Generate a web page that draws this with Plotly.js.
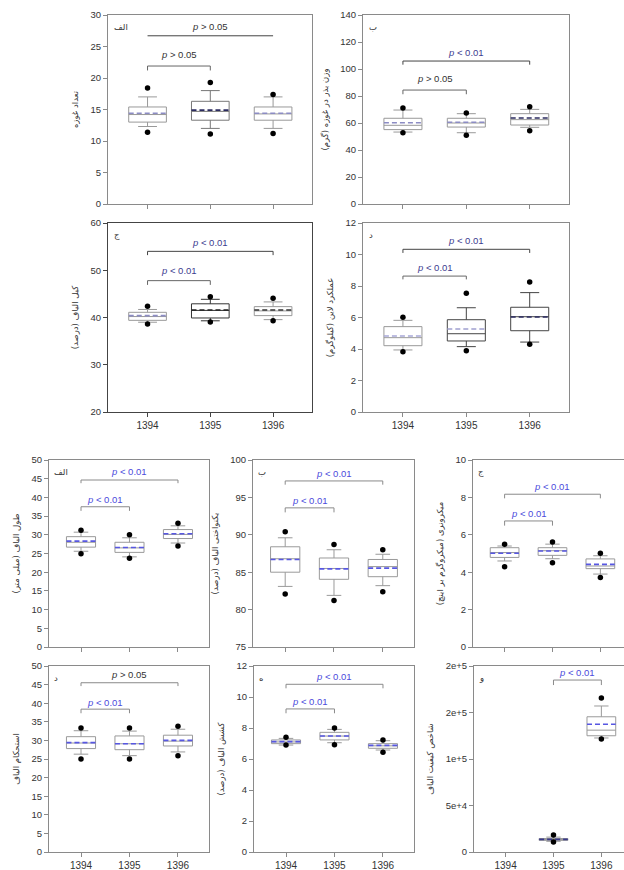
<!DOCTYPE html>
<html><head><meta charset="utf-8">
<script src="https://cdn.plot.ly/plotly-3.0.1.min.js"></script>
<style>html,body{margin:0;padding:0;overflow:hidden;background:#fff}</style>
</head><body><div id="chart" style="width:640px;height:870px"></div>
<script>
// ---------------- DATA ----------------
const years = ['1394', '1395', '1396'];
const fqiTickVals = [0, 50000, 100000, 150000, 200000];
const fqiTickText = ['0', '5e+4', '1e+5', '2e+5', '2e+5'];

// 1 – number of bolls
const bollLo = [12.3, 12.0, 12.0], bollQ1 = [13.0, 13.3, 13.3], bollMed = [14.2, 14.7, 14.3];
const bollQ3 = [15.4, 16.3, 15.4], bollHi = [17.0, 18.0, 17.0], bollMean = [14.4, 14.9, 14.4];
const bollOutLo = [11.4, 11.1, 11.2], bollOutHi = [18.4, 19.3, 17.4];
const bollP = ['p > 0.05', 'p > 0.05'];

// 2 – seed weight per boll
const seedLo = [53.3, 52.8, 56.8], seedQ1 = [55.1, 57.0, 58.5], seedMed = [58.3, 60.0, 62.5];
const seedQ3 = [63.5, 63.5, 66.9], seedHi = [69.6, 66.9, 70.1], seedMean = [60.2, 60.5, 63.7];
const seedOutLo = [52.8, 50.9, 54.3], seedOutHi = [71.1, 67.4, 72.1];
const seedP = ['p > 0.05', 'p < 0.01'];

// 3 – lint percentage
const lintLo = [39.0, 39.3, 39.55], lintQ1 = [39.4, 39.9, 40.4], lintMed = [40.2, 41.5, 41.4];
const lintQ3 = [41.1, 42.9, 42.3], lintHi = [41.7, 43.85, 43.3], lintMean = [40.4, 41.6, 41.6];
const lintOutLo = [38.6, 39.05, 39.3], lintOutHi = [42.4, 44.4, 44.1];
const lintP = ['p < 0.01', 'p < 0.01'];

// 4 – line yield
const yldLo = [3.94, 4.15, 4.44], yldQ1 = [4.21, 4.51, 5.16], yldMed = [4.72, 4.97, 6.05];
const yldQ3 = [5.42, 5.86, 6.65], yldHi = [5.82, 6.62, 7.58], yldMean = [4.83, 5.27, 6.03];
const yldOutLo = [3.83, 3.89, 4.30], yldOutHi = [6.01, 7.54, 8.25];
const yldP = ['p < 0.01', 'p < 0.01'];

// 5 – fibre length
const lenLo = [25.6, 24.1, 27.8], lenQ1 = [26.7, 25.3, 29.0], lenMed = [28.0, 26.5, 30.1];
const lenQ3 = [29.5, 28.0, 31.4], lenHi = [30.7, 29.2, 32.4], lenMean = [28.3, 26.6, 30.3];
const lenOutLo = [24.9, 23.7, 27.0], lenOutHi = [31.2, 30.0, 33.1];
const lenP = ['p < 0.01', 'p < 0.01'];

// 6 – fibre uniformity
const uniLo = [83.1, 81.9, 83.2], uniQ1 = [85.0, 84.05, 84.4], uniMed = [86.8, 85.5, 85.75];
const uniQ3 = [88.4, 86.9, 86.7], uniHi = [89.6, 88.0, 87.4], uniMean = [86.7, 85.45, 85.55];
const uniOutLo = [82.1, 81.2, 82.4], uniOutHi = [90.4, 88.7, 88.0];
const uniP = ['p < 0.01', 'p < 0.01'];

// 7 – micronaire
const micLo = [4.6, 4.72, 3.9], micQ1 = [4.79, 4.9, 4.19], micMed = [5.05, 5.15, 4.33];
const micQ3 = [5.31, 5.31, 4.71], micHi = [5.4, 5.5, 4.88], micMean = [5.01, 5.13, 4.42];
const micOutLo = [4.29, 4.51, 3.71], micOutHi = [5.49, 5.61, 5.01];
const micP = ['p < 0.01', 'p < 0.01'];

// 8 – fibre strength
const strLo = [26.3, 25.9, 26.9], strQ1 = [27.8, 27.5, 28.5], strMed = [29.3, 29.1, 29.8];
const strQ3 = [31.0, 31.2, 31.4], strHi = [32.6, 32.5, 33.0], strMean = [29.4, 29.1, 30.0];
const strOutLo = [25.0, 25.0, 25.9], strOutHi = [33.3, 33.3, 33.8];
const strP = ['p < 0.01', 'p > 0.05'];

// 9 – fibre elongation
const eloLo = [6.9, 7.05, 6.58], eloQ1 = [6.99, 7.23, 6.69], eloMed = [7.1, 7.48, 6.85];
const eloQ3 = [7.23, 7.72, 6.99], eloHi = [7.33, 7.91, 7.18], eloMean = [7.12, 7.48, 6.88];
const eloOutLo = [6.9, 6.92, 6.43], eloOutHi = [7.4, 8.0, 7.23];
const eloP = ['p < 0.01', 'p < 0.01'];

// 10 – fibre quality index
const fqiLo = [null, 11500, 122600], fqiQ1 = [null, 12500, 125000], fqiMed = [null, 13400, 131000];
const fqiQ3 = [null, 14500, 145400], fqiHi = [null, 16000, 157000], fqiMean = [null, 13600, 137300];
const fqiOutLo = [null, 10750, 121500], fqiOutHi = [null, 18300, 165600];
const fqiP = ['p < 0.01'];

// ---------------- LAYOUT CONFIG ----------------
const W = 640, H = 870;
const topMeanLight = '#8c8cc4', topMeanDark = '#2b2b60', botMean = '#5757e2';
const panels = [
  {px:[108,312], py:[15,204], yr:[0,30], dt:5, letter:'الف', title:'تعداد غوزه', top:true, xlab:false, frame:'#8a8a8a',
   d:[bollLo,bollQ1,bollMed,bollQ3,bollHi,bollMean,bollOutLo,bollOutHi], p:bollP,
   br:[[0,1,21.9,21.2,23.8],[0,2,26.7,26.7,28.1]], boxC:['#999','#777','#999'], meanC:[topMeanLight,topMeanDark,topMeanLight]},
  {px:[363,569], py:[15,204], yr:[0,140], dt:20, letter:'ب', title:'وزن بذر در غوزه (گرم)', top:true, xlab:false, frame:'#8a8a8a',
   d:[seedLo,seedQ1,seedMed,seedQ3,seedHi,seedMean,seedOutLo,seedOutHi], p:seedP,
   br:[[0,1,84.4,81.3,92.6],[0,2,105.9,103.2,112.3]], boxC:['#999','#999','#999'], meanC:[topMeanLight,topMeanLight,topMeanDark]},
  {px:[108,312], py:[223,412], yr:[20,60], dt:10, letter:'ج', title:'کیل الیاف (درصد)', top:true, xlab:true, frame:'#444',
   d:[lintLo,lintQ1,lintMed,lintQ3,lintHi,lintMean,lintOutLo,lintOutHi], p:lintP,
   br:[[0,1,47.8,46.9,50.0],[0,2,54.0,53.2,55.8]], boxC:['#999','#333','#999'], meanC:[topMeanLight,'#222','#333']},
  {px:[363,569], py:[223,412], yr:[0,12], dt:2, letter:'د', title:'عملکرد لاین (کیلوگرم)', top:true, xlab:true, frame:'#8a8a8a',
   d:[yldLo,yldQ1,yldMed,yldQ3,yldHi,yldMean,yldOutLo,yldOutHi], p:yldP,
   br:[[0,1,8.63,8.42,9.2],[0,2,10.33,10.1,10.9]], boxC:['#999','#444','#444'], meanC:['#a8a8d8','#a0a0d0',topMeanDark]},
  {px:[49,209], py:[460,647], yr:[0,50], dt:5, letter:'الف', title:'طول الیاف (میلی متر)', top:false, xlab:false, frame:'#8a8a8a',
   d:[lenLo,lenQ1,lenMed,lenQ3,lenHi,lenMean,lenOutLo,lenOutHi], p:lenP,
   br:[[0,1,37.5,36.4,39.5],[0,2,44.65,43.8,46.8]]},
  {px:[253,414], py:[460,647], yr:[75,100], dt:5, letter:'ب', title:'یکنواختی الیاف (درصد)', top:false, xlab:false, frame:'#8a8a8a',
   d:[uniLo,uniQ1,uniMed,uniQ3,uniHi,uniMean,uniOutLo,uniOutHi], p:uniP,
   br:[[0,1,93.6,93.0,94.6],[0,2,97.2,96.7,98.2]]},
  {px:[473,631], py:[460,647], yr:[0,10], dt:2, letter:'ج', title:'میکرونری (میکروگرم بر اینچ)', top:false, xlab:false, frame:'#8a8a8a',
   d:[micLo,micQ1,micMed,micQ3,micHi,micMean,micOutLo,micOutHi], p:micP,
   br:[[0,1,6.74,6.49,7.15],[0,2,8.17,7.95,8.57]]},
  {px:[49,209], py:[666,852], yr:[0,50], dt:5, letter:'د', title:'استحکام الیاف', top:false, xlab:true, frame:'#8a8a8a',
   d:[strLo,strQ1,strMed,strQ3,strHi,strMean,strOutLo,strOutHi], p:strP,
   br:[[0,1,38.4,37.3,40.3],[0,2,45.5,44.6,47.8]]},
  {px:[254,414], py:[666,852], yr:[0,12], dt:2, letter:'ه', title:'کشش الیاف (درصد)', top:false, xlab:true, frame:'#8a8a8a',
   d:[eloLo,eloQ1,eloMed,eloQ3,eloHi,eloMean,eloOutLo,eloOutHi], p:eloP,
   br:[[0,1,9.23,8.95,9.74],[0,2,10.82,10.56,11.3]]},
  {px:[474,632], py:[666,852], yr:[0,200000], letter:'و', title:'شاخص کیفیت الیاف', top:false, xlab:true, frame:'#8a8a8a',
   d:[fqiLo,fqiQ1,fqiMed,fqiQ3,fqiHi,fqiMean,fqiOutLo,fqiOutHi], p:fqiP,
   br:[[1,2,184900,179500,193500]], meanC:['#5757e2','#3a3a8a','#5757e2'], tv:fqiTickVals, tt:fqiTickText}
];

const traces = [], annotations = [];
const layout = {width:W, height:H, margin:{l:0,r:0,t:0,b:0}, showlegend:false,
  paper_bgcolor:'#fff', plot_bgcolor:'#fff', font:{family:'Liberation Sans, Arial, sans-serif', size:9, color:'#333'}};

panels.forEach((P, k) => {
  const s = k === 0 ? '' : String(k + 1);
  const xa = 'x' + s, ya = 'y' + s;
  const lineC = P.frame;
  layout['xaxis' + s] = {domain:[P.px[0]/W, P.px[1]/W], anchor:ya, range: P.top ? [-0.63, 2.62] : [-0.66, 2.64],
    tickmode:'array', tickvals:[0,1,2], ticktext:years, showticklabels:P.xlab, ticks:'outside', ticklen:4,
    tickcolor:lineC, showline:true, mirror:true, linecolor:lineC, linewidth:1, showgrid:false, zeroline:false,
    tickfont:{size:10, color:'#333'}, fixedrange:true};
  const yax = {domain:[1 - P.py[1]/H, 1 - P.py[0]/H], anchor:xa, range:P.yr, ticks:'outside', ticklen:4,
    tickcolor:lineC, showline:true, mirror:true, linecolor:lineC, linewidth:1, showgrid:false, zeroline:false,
    tickfont:{size:9.5, color:'#333'}, fixedrange:true,
    title:{text:P.title, standoff:10, font:{family:'DejaVu Sans, sans-serif', size:8.5, color:'#333'}}};
  if (P.tv) { yax.tickmode = 'array'; yax.tickvals = P.tv; yax.ticktext = P.tt; }
  else { yax.dtick = P.dt; yax.tick0 = 0; }
  layout['yaxis' + s] = yax;

  const [lo, q1, med, q3, hi, mean, oLo, oHi] = P.d;
  const bw = 0.6;
  for (let i = 0; i < years.length; i++) {
    if (q1[i] === null) continue;
    const bc = P.boxC ? P.boxC[i] : '#9a9a9a';
    const mc = P.meanC ? P.meanC[i] : botMean;
    traces.push({type:'box', xaxis:xa, yaxis:ya, x:[i], q1:[q1[i]], median:[med[i]], q3:[q3[i]],
      lowerfence:[lo[i]], upperfence:[hi[i]], width:bw, whiskerwidth:0.5, fillcolor:'#fff',
      line:{color:bc, width:1}, boxpoints:false, hoverinfo:'skip'});
    traces.push({type:'scatter', mode:'lines', xaxis:xa, yaxis:ya, x:[i - bw/2, i + bw/2], y:[mean[i], mean[i]],
      line:{color:mc, width:1.6, dash:'5px,3px'}, hoverinfo:'skip'});
    traces.push({type:'scatter', mode:'markers', xaxis:xa, yaxis:ya, x:[i, i], y:[oLo[i], oHi[i]],
      marker:{color:'#000', size:5.5}, hoverinfo:'skip'});
  }
  P.br.forEach((b, j) => {
    const [a, c, yTop, yEnd, yTxt] = b;
    const label = P.p[j];
    const sig = label.indexOf('<') >= 0;
    let brC = P.top ? (j === 1 ? '#444' : '#666') : '#8a8a8a';
    traces.push({type:'scatter', mode:'lines', xaxis:xa, yaxis:ya, x:[a, a, c, c], y:[yEnd, yTop, yTop, yEnd],
      line:{color:brC, width:1}, hoverinfo:'skip'});
    const txtC = sig ? (P.top ? '#3c3c90' : '#4b4bdc') : '#333';
    annotations.push({xref:xa, yref:ya, x:(a + c)/2, y:yTxt, text:'<i>p</i>' + label.slice(1), showarrow:false,
      font:{size:9.5, color:txtC}, xanchor:'center', yanchor:'middle'});
  });
  annotations.push({xref:xa + ' domain', yref:ya + ' domain', x:0.02, y:0.975, text:P.letter, showarrow:false,
    xanchor:'left', yanchor:'top', font:{family:'DejaVu Sans, sans-serif', size:8.5, color:'#333'}});
});
layout.annotations = annotations;
Plotly.newPlot('chart', traces, layout, {staticPlot:true, displayModeBar:false});
</script></body></html>
